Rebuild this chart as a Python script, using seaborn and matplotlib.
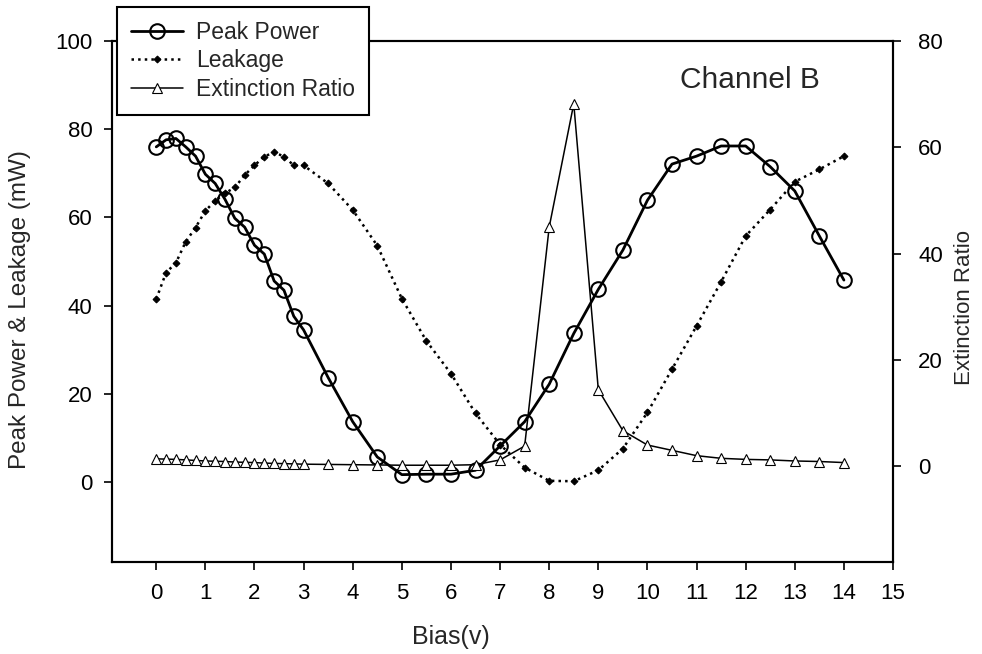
import matplotlib
matplotlib.use("Agg")
import matplotlib.pyplot as plt
import seaborn as sns
import pandas as pd

# ---- data ----
bias = [0, 0.2, 0.4, 0.6, 0.8, 1.0, 1.2, 1.4, 1.6, 1.8, 2.0, 2.2, 2.4, 2.6, 2.8, 3.0,
        3.5, 4.0, 4.5, 5.0, 5.5, 6.0, 6.5, 7.0, 7.5, 8.0, 8.5, 9.0, 9.5, 10.0,
        10.5, 11.0, 11.5, 12.0, 12.5, 13.0, 13.5, 14.0]
peak_power = [76.0, 77.6, 77.9, 76.0, 73.9, 69.8, 67.7, 64.1, 59.8, 57.8, 53.7, 51.7,
              45.6, 43.5, 37.6, 34.5, 23.7, 13.7, 5.7, 1.7, 1.8, 1.8, 2.7, 8.2, 13.7,
              22.2, 33.7, 43.7, 52.6, 63.9, 72.1, 73.9, 76.2, 76.2, 71.5, 66.0, 55.8, 45.8]
leakage = [41.5, 47.5, 49.7, 54.5, 57.7, 61.5, 63.8, 65.5, 66.8, 69.6, 71.8, 73.8,
           74.8, 73.8, 71.8, 71.8, 67.7, 61.7, 53.6, 41.6, 32.0, 24.6, 15.6, 8.5, 3.3,
           0.3, 0.2, 2.7, 7.6, 15.8, 25.6, 35.4, 45.4, 55.8, 61.8, 68.1, 70.9, 73.9]
extinction = [1.4, 1.35, 1.3, 1.2, 1.1, 1.0, 0.95, 0.9, 0.8, 0.75, 0.7, 0.6, 0.55, 0.5,
              0.45, 0.4, 0.35, 0.3, 0.25, 0.2, 0.2, 0.2, 0.3, 1.2, 3.8, 45.0, 68.2, 14.4,
              6.7, 4.0, 3.0, 2.0, 1.5, 1.3, 1.2, 1.0, 0.9, 0.7]
x_ticks = list(range(0, 16))
left_ticks = [0, 20, 40, 60, 80, 100]
right_ticks = [0, 20, 40, 60, 80]

df = pd.DataFrame({"bias": bias, "pp": peak_power, "leak": leakage, "er": extinction})

sns.set_style("ticks")
plt.rcParams["font.family"] = ["Liberation Sans", "DejaVu Sans"]

fig = plt.figure(figsize=(9.82, 6.54), dpi=100)
ax = fig.add_axes([0.1141, 0.1407, 0.7953, 0.7966])
ax2 = ax.twinx()

sns.lineplot(data=df, x="bias", y="pp", ax=ax, sort=False, estimator=None,
             color="black", lw=2.0, marker="o", markersize=10.5,
             markerfacecolor="none", markeredgecolor="black", markeredgewidth=1.5,
             label="Peak Power")
sns.lineplot(data=df, x="bias", y="leak", ax=ax, sort=False, estimator=None,
             color="black", lw=1.8, linestyle=":", marker="D", markersize=3.5,
             markerfacecolor="black", markeredgecolor="black",
             label="Leakage")
sns.lineplot(data=df, x="bias", y="er", ax=ax2, sort=False, estimator=None,
             color="black", lw=1.1, marker="^", markersize=7.5,
             markerfacecolor="white", markeredgecolor="black", markeredgewidth=0.8,
             label="Extinction Ratio")

ax.set_xlim(-0.9, 15)
ax.set_ylim(-18.1, 100)
ax2.set_ylim(-18.0, 80)
ax.set_xticks(x_ticks)
ax.set_yticks(left_ticks)
ax2.set_yticks(right_ticks)

for a in (ax, ax2):
    for s in a.spines.values():
        s.set_visible(True)
        s.set_color("black")
        s.set_linewidth(1.5)
    a.tick_params(direction="out", length=6, width=1.2, colors="black", labelsize=16)
ax.tick_params(axis="x", pad=9)
ax.tick_params(axis="y", pad=8)
ax2.tick_params(axis="y", pad=12)

ax.set_xlabel("Bias(v)", fontsize=18)
ax.xaxis.label.set_va("center")
ax.xaxis.set_label_coords(0.434, -0.144)
ax.set_ylabel("Peak Power & Leakage (mW)", fontsize=17.5)
ax.yaxis.label.set_va("center")
ax.yaxis.set_label_coords(-0.118, 0.484)
ax2.set_ylabel("Extinction Ratio", fontsize=16)
ax2.yaxis.label.set_va("center")
ax2.yaxis.set_label_coords(1.092, 0.489)

ax.text(0.817, 0.925, "Channel B", transform=ax.transAxes, fontsize=21.5,
        ha="center", va="center")

h1, l1 = ax.get_legend_handles_labels()
h2, l2 = ax2.get_legend_handles_labels()
for a in (ax, ax2):
    lg = a.get_legend()
    if lg is not None:
        lg.remove()
leg = fig.legend(h1 + h2, l1 + l2, loc="upper left",
                 bbox_to_anchor=(117 / 982, 1 - 7 / 654), bbox_transform=fig.transFigure,
                 borderaxespad=0, fontsize=16.5, frameon=True, fancybox=False,
                 framealpha=1, edgecolor="black", handlelength=2.3, labelspacing=0.25,
                 numpoints=1, borderpad=0.6, handletextpad=0.55)
leg.get_frame().set_linewidth(1.5)

fig.savefig("out.png", dpi=100)
